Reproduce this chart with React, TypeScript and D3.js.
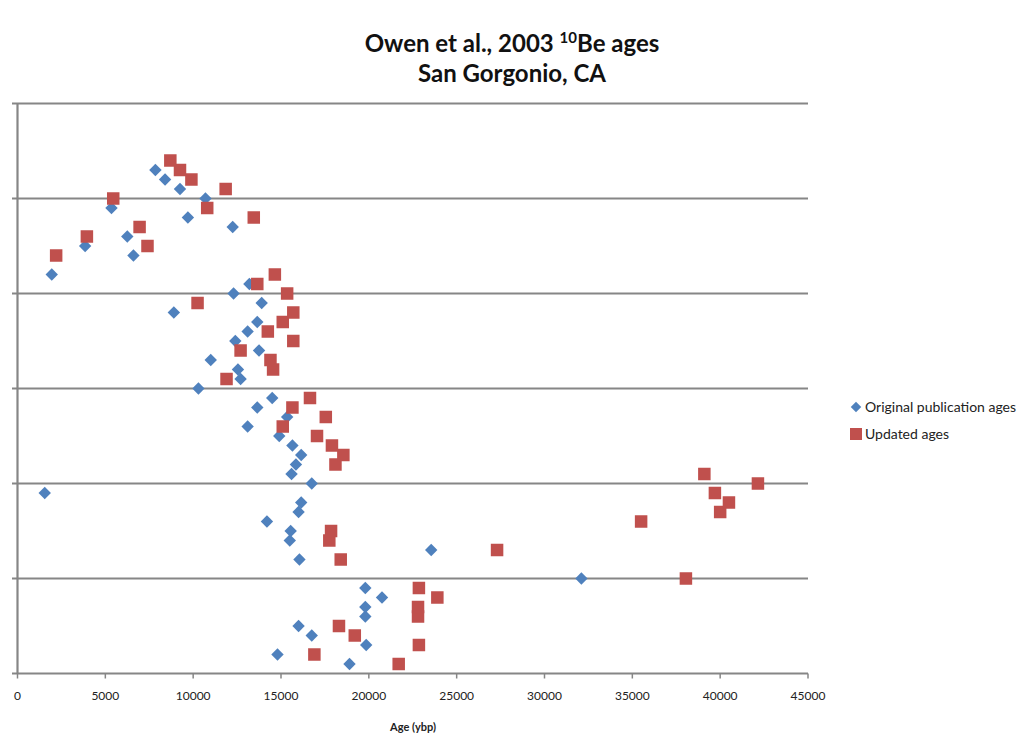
import React from "react";
import * as d3 from "d3";

// sample rows (y position) and ages in years before present
const originalRows = [
  1, 2, 3, 4, 5, 6, 7, 8, 9, 10, 12, 13, 14, 15, 16, 17, 18, 19, 20, 21, 22, 23,
  24, 25, 26, 27, 28, 29, 30, 31, 32, 33, 34, 35, 36, 37, 38, 39, 40, 41, 42,
  44, 45, 46, 47, 48, 49, 50, 51, 52, 53,
];
const originalAges = [
  18900, 14800, 19850, 16750, 16000, 19800, 19800, 20750, 19800, 32100, 16050,
  23550, 15500, 15550, 14200, 16000, 16150, 1550, 16750, 15600, 15850, 16150,
  15650, 14900, 13100, 15350, 13650, 14500, 10300, 12700, 12550, 11000, 13750,
  12400, 13100, 13650, 8900, 13900, 12300, 13200, 1950, 6600, 3850, 6250, 12250,
  9700, 5350, 10700, 9250, 8400, 7850,
];
const updatedRows = [
  1, 2, 3, 4, 5, 6, 7, 8, 9, 10, 12, 13, 14, 15, 16, 17, 18, 19, 20, 21, 22, 23,
  24, 25, 26, 27, 28, 29, 31, 32, 33, 34, 35, 36, 37, 38, 39, 40, 41, 42, 44,
  45, 46, 47, 48, 49, 50, 51, 52, 53, 54,
];
const updatedAges = [
  21700, 16900, 22850, 19200, 18300, 22800, 22800, 23900, 22850, 38050, 18400,
  27300, 17750, 17850, 35500, 40000, 40500, 39700, 42150, 39100, 18100, 18550,
  17900, 17050, 15100, 17550, 15650, 16650, 11900, 14550, 14400, 12700, 15700,
  14250, 15100, 15700, 10250, 15350, 13650, 14650, 2200, 7400, 3950, 6950,
  13450, 10800, 5450, 11850, 9900, 9250, 8700,
];
const xTicks = [0, 5000, 10000, 15000, 20000, 25000, 30000, 35000, 40000, 45000];
const yGrid = [0, 10, 20, 30, 40, 50, 60];
const legendLabels = ["Original publication ages", "Updated ages"];

const BLUE = "#4f81bd";
const RED = "#c0504d";
const GRID = "#868686";
const FONT = "Lato, 'Open Sans', sans-serif";

export default function App() {
  const x = d3.scaleLinear().domain([0, 45000]).range([17.5, 808]);
  const y = d3.scaleLinear().domain([0, 60]).range([673.5, 103.5]);

  const diamond = d3.symbol().type(d3.symbolDiamond2).size(98)();
  const square = 12.5;

  return (
    <svg
      width={1018}
      height={740}
      style={{ position: "absolute", left: 0, top: 0, background: "#fff" }}
      fontFamily={FONT}
    >
      <rect width={1018} height={740} fill="#fff" />

      {/* title */}
      <text x={512} y={52} textAnchor="middle" fontSize={24} fontWeight="bold" fill="#111">
        Owen et al., 2003{" "}
        <tspan fontSize={15} dy={-9}>10</tspan>
        <tspan dy={9}>Be ages</tspan>
      </text>
      <text x={512} y={82} textAnchor="middle" fontSize={24} fontWeight="bold" fill="#111">
        San Gorgonio, CA
      </text>

      {/* gridlines */}
      {yGrid.map((v) => (
        <line key={v} x1={12} x2={808} y1={y(v)} y2={y(v)} stroke={GRID} strokeWidth={2.2} />
      ))}
      {/* y axis line */}
      <line x1={x(0)} x2={x(0)} y1={y(60)} y2={y(0)} stroke={GRID} strokeWidth={2.2} />

      {/* x ticks */}
      {xTicks.map((t) => (
        <g key={t}>
          <line x1={x(t)} x2={x(t)} y1={y(0)} y2={y(0) + 5} stroke={GRID} strokeWidth={1.5} />
          <text x={x(t)} y={700} textAnchor="middle" fontSize={12} fill="#222">
            {t}
          </text>
        </g>
      ))}
      <text x={413} y={731} textAnchor="middle" fontSize={11} fontWeight="bold" fill="#222">
        Age (ybp)
      </text>

      {/* series */}
      {originalAges.map((a, i) => (
        <path
          key={"o" + i}
          d={diamond}
          transform={`translate(${x(a)},${y(originalRows[i])})`}
          fill={BLUE}
        />
      ))}
      {updatedAges.map((a, i) => (
        <rect
          key={"u" + i}
          x={x(a) - square / 2}
          y={y(updatedRows[i]) - square / 2}
          width={square}
          height={square}
          fill={RED}
        />
      ))}

      {/* legend */}
      <path d={d3.symbol().type(d3.symbolDiamond2).size(70)()} transform="translate(856,407)" fill={BLUE} />
      <text x={865} y={412} fontSize={14} fill="#222">
        {legendLabels[0]}
      </text>
      <rect x={850} y={428} width={12} height={12} fill={RED} />
      <text x={865} y={439} fontSize={14} fill="#222">
        {legendLabels[1]}
      </text>
    </svg>
  );
}
